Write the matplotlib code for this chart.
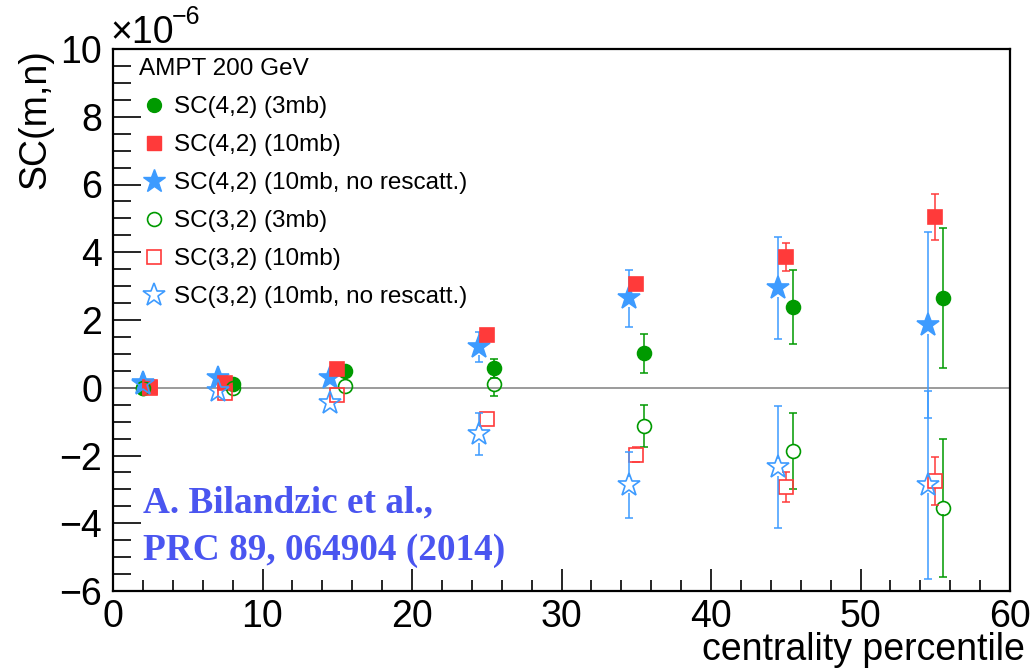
import matplotlib
matplotlib.use('Agg')
import matplotlib.pyplot as plt
from matplotlib.lines import Line2D
from matplotlib.ticker import MultipleLocator
import numpy as np

# centrality positions (each set is shifted a bit inside the bin)
x_circ = [2.0, 8.0, 15.5, 25.5, 35.5, 45.5, 55.5]
x_sq   = [2.5, 7.5, 15.0, 25.0, 35.0, 45.0, 55.0]
x_star = [2.0, 7.0, 14.5, 24.5, 34.5, 44.5, 54.5]

# SC(4,2)
sc42_3mb      = [0.00, 0.10, 0.50, 0.57, 1.02, 2.39, 2.65]
sc42_3mb_err  = [0.05, 0.08, 0.15, 0.27, 0.58, 1.10, 2.08]
sc42_10mb     = [0.02, 0.15, 0.54, 1.57, 3.06, 3.86, 5.04]
sc42_10mb_err = [0.03, 0.05, 0.08, 0.12, 0.15, 0.40, 0.67]
sc42_nores    = [0.15, 0.30, 0.28, 1.21, 2.64, 2.94, 1.85]
sc42_nores_err= [0.05, 0.10, 0.20, 0.45, 0.84, 1.50, 2.75]
# SC(3,2)
sc32_3mb      = [0.00, 0.00, 0.05, 0.10, -1.13, -1.86, -3.54]
sc32_3mb_err  = [0.05, 0.08, 0.15, 0.33, 0.61, 1.12, 2.04]
sc32_10mb     = [0.00, -0.15, -0.21, -0.92, -1.98, -2.93, -2.75]
sc32_10mb_err = [0.03, 0.05, 0.08, 0.12, 0.22, 0.44, 0.71]
sc32_nores    = [0.10, -0.10, -0.46, -1.37, -2.87, -2.35, -2.87]
sc32_nores_err= [0.05, 0.10, 0.25, 0.62, 0.98, 1.80, 2.78]

groen = '#009a00'
rood  = '#ff3a3a'
blauw = '#3d9bff'

plt.rcParams['font.family'] = ['Liberation Sans', 'DejaVu Sans']
plt.rcParams['axes.unicode_minus'] = True

fig = plt.figure(figsize=(10.32, 6.71), dpi=100)
ax = fig.add_axes([113/1032, 1-591/671, 897/1032, 542/671])
ax.set_xlim(0, 60)
ax.set_ylim(-6, 10)

def teken(x, y, e, kleur, marker, ms, gevuld, z, h):
    # h = half marker height in data units; like ROOT, no error line inside the marker
    x = np.asarray(x); y = np.asarray(y); e = np.asarray(e)
    m = e > h
    ax.vlines(x[m], y[m] + h, y[m] + e[m], color=kleur, lw=1.1, zorder=z)
    ax.vlines(x[m], y[m] - e[m], y[m] - h, color=kleur, lw=1.1, zorder=z)
    for teken_y in (y[m] + e[m], y[m] - e[m]):
        ax.plot(x[m], teken_y, ls='none', marker='_', ms=5.5, mew=1.1, color=kleur, zorder=z)
    ax.plot(x, y, ls='none', marker=marker, ms=ms, mfc=kleur if gevuld else 'none',
            mec=kleur, mew=1.2, zorder=z)

teken(x_circ, sc42_3mb, sc42_3mb_err, groen, 'o', 10, True, 3, 0.2)
teken(x_star, sc42_nores, sc42_nores_err, blauw, '*', 17, True, 4, 0.25)
teken(x_sq, sc42_10mb, sc42_10mb_err, rood, 's', 10, True, 5, 0.2)
teken(x_circ, sc32_3mb, sc32_3mb_err, groen, 'o', 10, False, 6, 0.2)
teken(x_sq, sc32_10mb, sc32_10mb_err, rood, 's', 10, False, 7, 0.2)
teken(x_star, sc32_nores, sc32_nores_err, blauw, '*', 17, False, 8, 0.25)

ax.axhline(0, color='#808080', lw=1.1, zorder=2)

ax.xaxis.set_major_locator(MultipleLocator(10))
ax.xaxis.set_minor_locator(MultipleLocator(2))
ax.yaxis.set_major_locator(MultipleLocator(2))
ax.yaxis.set_minor_locator(MultipleLocator(0.5))
ax.tick_params(which='both', direction='in', top=False, right=False,
               labelsize=27, width=1.2, color='black')
ax.tick_params(axis='x', which='major', length=16, pad=6)
ax.tick_params(axis='x', which='minor', length=8)
ax.tick_params(axis='y', which='major', length=20, pad=8)
ax.tick_params(axis='y', which='minor', length=13)
for s in ax.spines.values():
    s.set_linewidth(1.6)

fig.text(1025/1032, 1-660/671, 'centrality percentile', ha='right', va='baseline', fontsize=27)
fig.text(35/1032, 1-49/671, 'SC(m,n)', ha='center', va='top', rotation=90, fontsize=27)
fig.text(110/1032, 1-43/671, '\u00d710', ha='left', va='baseline', fontsize=27)
fig.text(172/1032, 1-24/671, '\u22126', ha='left', va='baseline', fontsize=18)

ax.text(0.0334, 0.144, 'A. Bilandzic et al.,', transform=ax.transAxes,
        fontsize=26.8, fontweight='bold', family='Liberation Serif', color='#4a55f0')
ax.text(0.0334, 0.057, 'PRC 89, 064904 (2014)', transform=ax.transAxes,
        fontsize=26.8, fontweight='bold', family='Liberation Serif', color='#4a55f0')

handles = [
    Line2D([], [], ls='none', marker='o', ms=10, color=groen),
    Line2D([], [], ls='none', marker='s', ms=10, color=rood),
    Line2D([], [], ls='none', marker='*', ms=17, color=blauw),
    Line2D([], [], ls='none', marker='o', ms=10, mfc='none', mec=groen, mew=1.2),
    Line2D([], [], ls='none', marker='s', ms=10, mfc='none', mec=rood, mew=1.2),
    Line2D([], [], ls='none', marker='*', ms=17, mfc='none', mec=blauw, mew=1.2),
]
labels = ['SC(4,2) (3mb)', 'SC(4,2) (10mb)', 'SC(4,2) (10mb, no rescatt.)',
          'SC(3,2) (3mb)', 'SC(3,2) (10mb)', 'SC(3,2) (10mb, no rescatt.)']
leg = ax.legend(handles, labels, title='AMPT 200 GeV', loc='upper left',
                bbox_to_anchor=(139/1032, 1-58/671), bbox_transform=fig.transFigure,
                frameon=False, fontsize=17.5, title_fontsize=17.5, alignment='left',
                borderpad=0, borderaxespad=0, handlelength=1.2, handletextpad=0.25,
                labelspacing=0.66)

fig.savefig('out.png', dpi=100)
